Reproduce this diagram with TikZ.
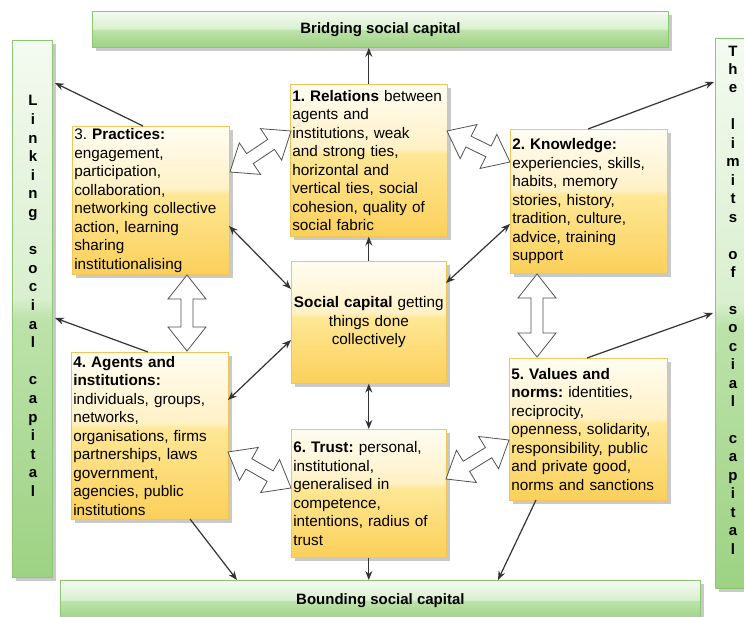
\documentclass[tikz,border=0pt]{standalone}
\usepackage{fontspec}
\setmainfont{Liberation Sans}
\usetikzlibrary{calc,arrows.meta,shadows}
\frenchspacing

% palette
\definecolor{ytop}{HTML}{FFFDF2}
\definecolor{yhi}{HTML}{FFF1C6}
\definecolor{ylow}{HTML}{FEE795}
\definecolor{ybot}{HTML}{FBD05A}
\definecolor{yedge}{HTML}{F0C55A}
\definecolor{gtop}{HTML}{F4FBF1}
\definecolor{ghi}{HTML}{D9EFCE}
\definecolor{glow}{HTML}{BDE2AA}
\definecolor{gbot}{HTML}{9DD283}
\definecolor{gedge}{HTML}{8CC774}
\definecolor{ink}{HTML}{333333}
\definecolor{shadowgray}{HTML}{C9C9C9}

% glossy fills: pale upper half, saturated lower half
\pgfdeclareverticalshading{yellowgloss}{100bp}{color(0bp)=(ybot); color(25bp)=(ybot); color(52bp)=(ylow); color(54bp)=(yhi); color(75bp)=(ytop); color(100bp)=(ytop)}
\pgfdeclareverticalshading{greengloss}{100bp}{color(0bp)=(gbot); color(25bp)=(gbot); color(49bp)=(glow); color(51bp)=(ghi); color(75bp)=(gtop); color(100bp)=(gtop)}

\newcommand\boxfont{\fontsize{15.3}{18.5}\selectfont}
\newcommand\barfont{\fontsize{15}{18.6}\selectfont\bfseries}

\tikzset{
  castshadow/.style={drop shadow={shadow xshift=4pt, shadow yshift=-4pt, fill=shadowgray, opacity=1}},
  topic/.style={rectangle, anchor=north west, draw=yedge, line width=0.6pt, shading=yellowgloss,
    castshadow, inner xsep=2pt, inner ysep=1pt, align=left, font=\boxfont},
  band/.style={rectangle, anchor=north west, draw=gedge, line width=0.8pt, shading=greengloss,
    castshadow, inner sep=0pt, font=\barfont},
  link/.style={draw=ink, line width=1.2pt, -{Stealth[length=9pt,width=7pt]}},
  bilink/.style={draw=ink, line width=1.2pt, {Stealth[length=9pt,width=7pt]}-{Stealth[length=9pt,width=7pt]}},
  fatarrow/.style={draw=ink!85, fill=white, line width=0.8pt, line join=miter},
}

% hollow two-headed block arrow between two points
\newcommand\blockarrow[2]{%
  \path[fatarrow] let \p1=(#1), \p2=(#2),
      \n1={atan2(\y2-\y1,\x2-\x1)}, \n2={veclen(\x2-\x1,\y2-\y1)} in
    (\p1) -- ($(\p1)+(\n1:24pt)+(\n1+90:19pt)$) -- ($(\p1)+(\n1:24pt)+(\n1+90:6pt)$)
    -- ($(\p1)+(\n1:\n2-24pt)+(\n1+90:6pt)$) -- ($(\p1)+(\n1:\n2-24pt)+(\n1+90:19pt)$)
    -- (\p2)
    -- ($(\p1)+(\n1:\n2-24pt)+(\n1-90:19pt)$) -- ($(\p1)+(\n1:\n2-24pt)+(\n1-90:6pt)$)
    -- ($(\p1)+(\n1:24pt)+(\n1-90:6pt)$) -- ($(\p1)+(\n1:24pt)+(\n1-90:19pt)$) -- cycle;}

\begin{document}
\begin{tikzpicture}[x=1pt,y=-1pt]
\clip (0,0) rectangle (744,616);
\fill[white] (0,0) rectangle (744,616);

% outer capital bands
\node[band, minimum width=576pt, minimum height=36pt] (top) at (92,11) {Bridging social capital};
\node[band, minimum width=640pt, minimum height=40pt] (bot) at (60,580) {Bounding social capital};
\node[band, minimum width=40pt, minimum height=537pt] (lbar) at (12,40) {};
\node[band, minimum width=40pt, minimum height=550pt] (rbar) at (715,38) {};

\node[font=\barfont, align=center, inner sep=0pt] (ltext) at (33,296)
  {L\\i\\n\\k\\i\\n\\g\\[18.6pt]s\\o\\c\\i\\a\\l\\[18.6pt]c\\a\\p\\i\\t\\a\\l};
\node[font=\fontsize{15}{18.45}\selectfont\bfseries, align=center, inner sep=0pt] (rtext) at (733,300)
  {T\\h\\e\\[18.45pt]l\\i\\m\\i\\t\\s\\[18.45pt]o\\f\\[18.45pt]s\\o\\c\\i\\a\\l\\[18.45pt]c\\a\\p\\i\\t\\a\\l};

% the six dimensions and the core
\node[topic, minimum width=157pt, minimum height=152pt, text width=153pt] (b1) at (290,84)
  {\textbf{1. Relations} between\\agents and\\institutions, weak\\and strong ties,\\horizontal and\\vertical ties, social\\cohesion, quality of\\social fabric};
\node[topic, minimum width=157pt, minimum height=148pt, text width=153pt] (b3) at (72,126)
  {3. \textbf{Practices:}\\engagement,\\participation,\\collaboration,\\networking collective\\action, learning\\sharing\\institutionalising};
\node[topic, minimum width=157pt, minimum height=144pt, text width=153pt] (b2) at (510,129)
  {\textbf{2. Knowledge:}\\experiencies, skills,\\habits, memory\\stories, history,\\tradition, culture,\\advice, training\\support};
\node[topic, minimum width=155pt, minimum height=122pt, text width=151pt, align=center] (cen) at (291,261)
  {\textbf{Social capital} getting\\things done\\collectively};
\node[topic, minimum width=157pt, minimum height=167pt, text width=153pt] (b4) at (71,352)
  {\textbf{4. Agents and}\\\textbf{institutions:}\\individuals, groups,\\networks,\\organisations, firms\\partnerships, laws\\government,\\agencies, public\\institutions};
\node[topic, minimum width=158pt, minimum height=142pt, text width=154pt] (b5) at (509,358)
  {\textbf{5. Values and}\\\textbf{norms:} identities,\\reciprocity,\\openness, solidarity,\\responsibility, public\\and private good,\\norms and sanctions};
\node[topic, minimum width=155pt, minimum height=128pt, text width=151pt] (b6) at (291,429)
  {\textbf{6. Trust:} personal,\\institutional,\\generalised in\\competence,\\intentions, radius of\\trust};

% connector end points
\coordinate (b3up) at (143,126);
\coordinate (l1) at (55,83);
\coordinate (b4up) at (148,352);
\coordinate (l2) at (55,318);
\coordinate (b2up) at (588,129);
\coordinate (r1) at (714,82);
\coordinate (b5up) at (587,358);
\coordinate (r2) at (713,313);
\coordinate (b4dn) at (190,519);
\coordinate (bt1) at (237,580);
\coordinate (b5dn) at (536,500);
\coordinate (bt2) at (498,580);
\coordinate (b3r) at (229,226);
\coordinate (c1) at (291,289);
\coordinate (b2l) at (510,224);
\coordinate (c2) at (446,283);
\coordinate (b4r) at (228,400);
\coordinate (c3) at (291,340);

% thin connectors
\draw[link] (b1.north) -- (b1.north |- top.south);
\draw[link] (cen.north) -- (b1.south);
\draw[bilink] (cen.south) -- (b6.north);
\draw[link] (b6.south) -- (b6.south |- bot.north);
\draw[link] (b3up) -- (l1);
\draw[link] (b4up) -- (l2);
\draw[link] (b2up) -- (r1);
\draw[link] (b5up) -- (r2);
\draw[link] (b4dn) -- (bt1);
\draw[link] (b5dn) -- (bt2);
\draw[bilink] (c1) -- (b3r);
\draw[bilink] (c2) -- (b2l);
\draw[bilink] (c3) -- (b4r);

% block arrows between neighbouring dimensions
\coordinate (p3a) at (230,172);
\coordinate (p1a) at (291,131);
\coordinate (p1b) at (447,131);
\coordinate (p2a) at (510,162);
\coordinate (p3b) at (187,275);
\coordinate (p4a) at (187,351);
\coordinate (p2b) at (537,274);
\coordinate (p5a) at (537,357);
\coordinate (p4b) at (228,452);
\coordinate (p6a) at (291,488);
\coordinate (p6b) at (446,479);
\coordinate (p5b) at (509,440);
\blockarrow{p3a}{p1a}
\blockarrow{p1b}{p2a}
\blockarrow{p3b}{p4a}
\blockarrow{p2b}{p5a}
\blockarrow{p4b}{p6a}
\blockarrow{p6b}{p5b}
\end{tikzpicture}
\end{document}
